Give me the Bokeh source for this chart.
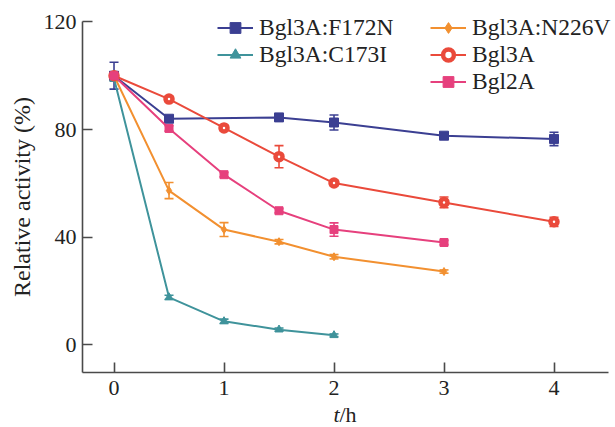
import math
from bokeh.plotting import figure
from bokeh.models import (ColumnDataSource, Whisker, TeeHead, Legend, LegendItem,
                          FixedTicker, Range1d, Label)
from bokeh.embed import file_html
from bokeh.resources import INLINE

# ---- data ----
t_f172n = [0, 0.5, 1.5, 2, 3, 4]
v_f172n = [100, 84.0, 84.5, 82.6, 77.7, 76.5]
e_f172n = [5.0, 1.0, 0.8, 2.8, 1.0, 2.5]

t_c173i = [0, 0.5, 1, 1.5, 2]
v_c173i = [99.0, 17.6, 8.7, 5.6, 3.5]
e_c173i = [1.0, 0.8, 0.8, 0.6, 0.5]

t_n226v = [0, 0.5, 1, 1.5, 2, 3]
v_n226v = [100, 57.3, 42.8, 38.3, 32.7, 27.2]
e_n226v = [1.5, 3.0, 2.6, 0.8, 0.8, 0.6]

t_bgl3a = [0, 0.5, 1, 1.5, 2, 3, 4]
v_bgl3a = [100, 91.3, 80.6, 69.9, 60.1, 52.9, 45.7]
e_bgl3a = [1.5, 1.0, 1.0, 4.1, 1.0, 2.0, 1.7]

t_bgl2a = [0, 0.5, 1, 1.5, 2, 3]
v_bgl2a = [100, 80.4, 63.2, 49.8, 42.8, 38.0]
e_bgl2a = [1.0, 1.0, 0.8, 0.8, 2.5, 0.8]

x_ticks = [0, 1, 2, 3, 4]
y_ticks = [0, 40, 80, 120]
x_axis_span = (-0.286, 4.495)
y_axis_span = (-10.3, 120)

FONT = "Liberation Serif"
AXIS_COLOR = "#4a4a4a"
TEXT_COLOR = "#222222"

# the plotting frame fills the whole canvas; axes are pinned inside it
p = figure(width=615, height=427, output_backend="svg", toolbar_location=None,
           x_range=Range1d(-1.032, 4.559), y_range=Range1d(-30.78, 127.96),
           min_border_left=0, min_border_right=0, min_border_top=0,
           min_border_bottom=0)
p.outline_line_color = None
p.xgrid.visible = False
p.ygrid.visible = False
p.background_fill_color = "white"
p.border_fill_color = "white"

for ax in (p.xaxis[0], p.yaxis[0]):
    ax.axis_line_color = AXIS_COLOR
    ax.axis_line_width = 1.6
    ax.major_tick_line_color = AXIS_COLOR
    ax.major_tick_line_width = 1.6
    ax.major_tick_in = 10
    ax.major_tick_out = 0
    ax.minor_tick_line_color = None
    ax.major_label_text_font = FONT
    ax.major_label_text_font_size = "22px"
    ax.major_label_text_color = TEXT_COLOR
    ax.major_label_standoff = 6
p.xaxis.ticker = FixedTicker(ticks=x_ticks)
p.yaxis.ticker = FixedTicker(ticks=y_ticks)
p.xaxis.major_label_standoff = 9
p.xaxis.bounds = x_axis_span
p.yaxis.bounds = y_axis_span
p.xaxis.fixed_location = y_axis_span[0]
p.yaxis.fixed_location = x_axis_span[0]

p.yaxis.axis_label = "Relative activity (%)"
p.yaxis.axis_label_text_font = FONT
p.yaxis.axis_label_text_font_size = "24px"
p.yaxis.axis_label_text_font_style = "normal"
p.yaxis.axis_label_text_color = TEXT_COLOR
p.yaxis.axis_label_standoff = 6

series = [
    ("Bgl3A:F172N", t_f172n, v_f172n, e_f172n, "#3b3f92", "square", 9, None),
    ("Bgl3A:C173I", t_c173i, v_c173i, e_c173i, "#3f939b", "triangle", 8, None),
    ("Bgl3A:N226V", t_n226v, v_n226v, e_n226v, "#f29030", "diamond", 8, None),
    ("Bgl3A", t_bgl3a, v_bgl3a, e_bgl3a, "#ea4a3b", "circle", 7, "white"),
    ("Bgl2A", t_bgl2a, v_bgl2a, e_bgl2a, "#e6407d", "square", 8, None),
]

items = {}
for name, t, v, e, color, marker, size, fill in series:
    src = ColumnDataSource(dict(t=t, v=v,
                                up=[a + b for a, b in zip(v, e)],
                                lo=[a - b for a, b in zip(v, e)]))
    w = Whisker(base="t", upper="up", lower="lo", source=src, dimension="height",
                line_color=color, line_width=1.6,
                upper_head=TeeHead(size=9, line_color=color, line_width=1.6),
                lower_head=TeeHead(size=9, line_color=color, line_width=1.6))
    p.add_layout(w)
    ln = p.line("t", "v", source=src, line_color=color, line_width=2)
    if fill is None:
        sc = p.scatter("t", "v", source=src, marker=marker, size=size,
                       fill_color=color, line_color=color)
    else:
        sc = p.scatter("t", "v", source=src, marker=marker, size=size,
                       fill_color=fill, line_color=color, line_width=4.5)
    items[name] = [ln, sc]

def make_legend(names, loc):
    lg = Legend(items=[LegendItem(label=n, renderers=items[n]) for n in names],
                location=loc, orientation="vertical",
                border_line_color=None, background_fill_alpha=0,
                padding=0, margin=0, spacing=0,
                label_height=27, glyph_height=27, glyph_width=36,
                label_standoff=6, label_text_font=FONT,
                label_text_font_size="23.5px", label_text_color=TEXT_COLOR)
    p.add_layout(lg)

make_legend(["Bgl3A:F172N", "Bgl3A:C173I"], (217, 359))
make_legend(["Bgl3A:N226V", "Bgl3A", "Bgl2A"], (430, 332))

# x-axis title "t/h" with an italic "t"
p.add_layout(Label(x=333, y=13, x_units="screen", y_units="screen",
                   text="t", text_font_style="italic",
                   text_align="left", text_baseline="middle",
                   text_font=FONT, text_font_size="22px", text_color=TEXT_COLOR))
p.add_layout(Label(x=339, y=13, x_units="screen", y_units="screen",
                   text="/h", text_align="left", text_baseline="middle",
                   text_font=FONT, text_font_size="22px", text_color=TEXT_COLOR))

open("out.html", "w").write(file_html(p, INLINE))
